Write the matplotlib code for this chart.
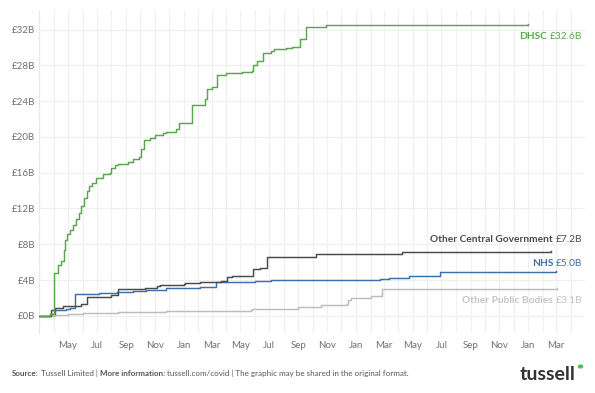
import matplotlib
matplotlib.use("Agg")
import matplotlib.pyplot as plt
import matplotlib.dates as mdates
import pandas as pd

# ---------------- data (cumulative value, £ billions) ----------------
dhsc_dates = ["2020-03-01", "2020-03-23", "2020-04-01", "2020-04-09", "2020-04-15", "2020-04-22",
              "2020-04-25", "2020-04-29", "2020-05-05", "2020-05-11", "2020-05-17", "2020-05-24",
              "2020-05-28", "2020-06-03", "2020-06-10", "2020-06-15", "2020-06-20", "2020-06-30",
              "2020-07-14", "2020-07-28", "2020-08-01", "2020-08-08", "2020-08-14", "2020-09-05",
              "2020-09-16", "2020-09-28", "2020-10-03", "2020-10-08", "2020-10-21", "2020-11-01",
              "2020-11-18", "2020-11-24", "2020-12-16", "2020-12-23", "2021-01-18", "2021-02-15",
              "2021-02-19", "2021-03-01", "2021-03-13", "2021-04-01", "2021-05-05", "2021-05-26",
              "2021-05-28", "2021-06-05", "2021-06-17", "2021-07-04", "2021-07-11", "2021-08-05",
              "2021-08-19", "2021-08-31", "2021-09-05", "2021-09-17", "2021-10-29", "2022-02-28",
              "2023-01-01"]
dhsc_values = [0.0, 0.2, 4.8, 5.7, 6.1, 7.4,
               8.5, 9.1, 9.6, 10.1, 10.8, 11.5,
               12.3, 13.2, 13.9, 14.5, 14.9, 15.4,
               15.8, 16.0, 16.5, 16.9, 17.0, 17.15,
               17.5, 17.8, 18.6, 19.7, 19.9, 20.25,
               20.4, 20.6, 20.9, 21.55, 23.6, 24.2,
               25.3, 25.6, 26.95, 27.15, 27.26, 27.4,
               28.0, 28.45, 29.4, 29.6, 29.8, 29.9,
               30.0, 30.1, 30.9, 32.3, 32.45, 32.55,
               32.6]

ocg_dates = ["2020-03-01", "2020-03-26", "2020-04-03", "2020-04-20", "2020-05-08", "2020-05-29",
             "2020-06-10", "2020-07-06", "2020-08-01", "2020-08-15", "2020-09-16", "2020-10-10",
             "2020-11-05", "2020-11-12", "2021-01-01", "2021-01-04", "2021-02-05", "2021-03-20",
             "2021-04-02", "2021-04-14", "2021-05-28", "2021-06-12", "2021-06-26", "2021-08-19",
             "2021-10-08", "2022-04-09", "2023-02-18"]
ocg_values = [0.0, 0.67, 0.86, 1.05, 1.15, 1.3,
              2.09, 2.16, 2.35, 2.98, 3.02, 3.17,
              3.36, 3.47, 3.58, 3.65, 3.73, 3.95,
              4.33, 4.47, 5.2, 5.3, 6.56, 6.63,
              6.9, 7.12, 7.2]

nhs_dates = ["2020-03-01", "2020-03-23", "2020-04-03", "2020-04-27", "2020-05-05", "2020-05-15",
             "2020-07-06", "2020-08-12", "2020-09-16", "2020-10-14", "2020-11-25", "2021-01-01",
             "2021-02-05", "2021-03-10", "2021-04-14", "2021-06-01", "2021-07-04", "2021-10-15",
             "2022-02-20", "2022-03-11", "2022-04-24", "2022-06-27", "2023-03-01"]
nhs_values = [0.0, 0.2, 0.6, 0.75, 0.86, 2.42,
              2.6, 2.72, 2.83, 2.9, 3.1, 3.17,
              3.28, 3.75, 3.84, 3.92, 4.0, 4.05,
              4.1, 4.21, 4.51, 4.89, 4.96]

opb_dates = ["2020-03-01", "2020-04-03", "2020-05-01", "2020-06-01", "2020-07-06", "2020-08-15",
             "2020-09-20", "2020-10-25", "2020-11-25", "2021-01-05", "2021-02-26", "2021-04-10",
             "2021-05-23", "2021-05-25", "2021-08-31", "2021-09-01", "2021-10-18", "2021-12-14",
             "2021-12-15", "2021-12-21", "2022-02-01", "2022-02-25", "2022-10-20", "2023-03-02"]
opb_values = [0.0, 0.1, 0.18, 0.27, 0.37, 0.41,
              0.44, 0.48, 0.52, 0.54, 0.56, 0.58,
              0.6, 0.8, 0.9, 1.04, 1.18, 1.3,
              1.79, 2.05, 2.2, 2.98, 3.05, 3.1]

series_names = ["DHSC", "Other Central Government", "NHS", "Other Public Bodies"]
series_totals = ["£32.6B", "£7.2B", "£5.0B", "£3.1B"]

y_ticks = [0, 4, 8, 12, 16, 20, 24, 28, 32]
y_tick_labels = ["£0B", "£4B", "£8B", "£12B", "£16B", "£20B", "£24B", "£28B", "£32B"]

# ---------------- style ----------------
plt.rcParams['font.family'] = ['Lato', 'DejaVu Sans']

GREEN = "#5aa64f"
DARK = "#4a4a4a"
BLUE = "#3d6fa8"
LIGHT = "#bdbdbd"
colors = [GREEN, DARK, BLUE, LIGHT]
label_colors = ["#5aa64f", "#4a4a4a", "#3d6fa8", "#c4c4c4"]

fig = plt.figure(figsize=(5.95, 3.93), dpi=100)
ax = fig.add_axes([0.066, 0.153, 0.917, 0.822])

data = [(dhsc_dates, dhsc_values), (ocg_dates, ocg_values),
        (nhs_dates, nhs_values), (opb_dates, opb_values)]
order = [3, 2, 1, 0]
for i in order:
    d, v = data[i]
    ax.plot(pd.to_datetime(d), v, drawstyle="steps-post", color=colors[i], lw=1.05, zorder=3)

ax.set_xlim(pd.Timestamp("2020-03-01"), pd.Timestamp("2023-05-01"))
ax.set_ylim(-1.9, 34.2)

ax.xaxis.set_minor_locator(mdates.MonthLocator())
ticks = [t for t in pd.date_range("2020-05-01", "2023-03-01", freq="2MS")]
ax.set_xticks(ticks)
ax.set_xticklabels([t.strftime("%b") for t in ticks])

ax.set_yticks(y_ticks)
ax.set_yticklabels(y_tick_labels)

ax.tick_params(axis="both", which="both", length=0, labelsize=7, colors="#707070", pad=6)
ax.tick_params(axis="y", pad=3)

ax.grid(True, which="major", axis="y", color="#f0f0f0", lw=0.9)
ax.grid(True, which="both", axis="x", color="#f0f0f0", lw=0.9)
for s in ["top", "right", "bottom"]:
    ax.spines[s].set_visible(False)
ax.spines["left"].set_color("#e6e6e6")
ax.spines["left"].set_linestyle((0, (1, 2)))
ax.spines["left"].set_linewidth(0.8)

# end labels
label_y_px = [36.7, 239, 264, 300.7]
for i, ypx in enumerate(label_y_px):
    yf = 1 - ypx / 393
    t = fig.text(0.978, yf, series_totals[i], color=label_colors[i], fontsize=7.3,
                 ha="right", va="center")
    fig.canvas.draw()
    bb = t.get_window_extent()
    x_left = bb.x0 / fig.bbox.width
    fig.text(x_left - 0.004, yf, series_names[i], color=label_colors[i], fontsize=7.3,
             fontweight="bold", ha="right", va="center")

# footer
fy = 1 - 373 / 393
parts = [("Source:", "bold"), (" Tussell Limited | ", "normal"), ("More information:", "bold"),
         (" tussell.com/covid | The graphic may be shared in the original format.", "normal")]
x = 12 / 595
for txt, w in parts:
    t = fig.text(x, fy, txt, fontsize=5.75, fontweight=w, color="#555555", ha="left", va="center")
    fig.canvas.draw()
    x = t.get_window_extent().x1 / fig.bbox.width

fig.text(575 / 595, 1 - 375 / 393, "tussell", fontsize=14, color="#333333", ha="right",
         va="center", fontweight="bold")
fig.patches.append(matplotlib.patches.Circle((580.5 / 595, 1 - 366.5 / 393), 0.0035,
                                             transform=fig.transFigure, color="#4cc34a"))

fig.savefig("out.png", dpi=100, facecolor="white")
